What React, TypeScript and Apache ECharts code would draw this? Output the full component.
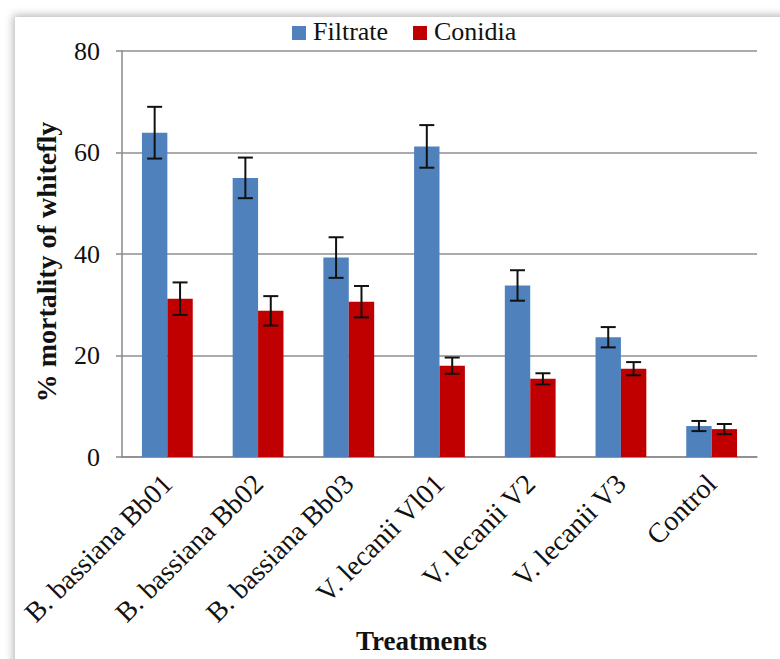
import React, { useEffect, useRef } from "react";
import * as echarts from "echarts";

const categories = [
  "B. bassiana Bb01",
  "B. bassiana Bb02",
  "B. bassiana Bb03",
  "V. lecanii Vl01",
  "V. lecanii V2",
  "V. lecanii V3",
  "Control",
];
const filtrate = [63.9, 55.0, 39.3, 61.2, 33.8, 23.6, 6.1];
const filtrateErr = [5.1, 4.0, 4.0, 4.2, 3.0, 2.0, 1.0];
const conidia = [31.2, 28.8, 30.6, 18.0, 15.4, 17.4, 5.5];
const conidiaErr = [3.2, 2.9, 3.1, 1.6, 1.1, 1.3, 1.0];
const yTicks = { min: 0, max: 80, interval: 20 };
const seriesNames = ["Filtrate", "Conidia"];
const seriesColors = ["#4F81BD", "#C00000"];

const FONT = "'Liberation Serif', 'Times New Roman', serif";
const BAR_FRAC = 0.28;

function errorSeries(name: string, values: number[], errs: number[], side: number) {
  return {
    type: "custom",
    name: name + " error",
    z: 10,
    silent: true,
    renderItem: (params: any, api: any) => {
      const idx = api.value(0);
      const v = api.value(1);
      const e = api.value(2);
      const band = api.size([1, 0])[0];
      const off = side * band * BAR_FRAC * 0.5;
      const top = api.coord([idx, v + e]);
      const bot = api.coord([idx, v - e]);
      const x = top[0] + off;
      const cap = 7.5;
      const style = { stroke: "#111", lineWidth: 2 };
      return {
        type: "group",
        children: [
          { type: "line", shape: { x1: x, y1: top[1], x2: x, y2: bot[1] }, style },
          { type: "line", shape: { x1: x - cap, y1: top[1], x2: x + cap, y2: top[1] }, style },
          { type: "line", shape: { x1: x - cap, y1: bot[1], x2: x + cap, y2: bot[1] }, style },
        ],
      };
    },
    data: values.map((v, i) => [i, v, errs[i]]),
  };
}

export default function App() {
  const ref = useRef<HTMLDivElement>(null);
  useEffect(() => {
    if (!ref.current) return;
    const chart = echarts.init(ref.current, null, { renderer: "svg" });
    const legendX = [292, 413];
    const legendGraphics: any[] = [];
    seriesNames.forEach((n, i) => {
      legendGraphics.push({
        type: "rect",
        left: legendX[i],
        top: 26,
        shape: { width: 14, height: 14 },
        style: { fill: seriesColors[i] },
      });
      legendGraphics.push({
        type: "text",
        left: legendX[i] + 21,
        top: 18,
        style: {
          text: n,
          font: "normal 26px " + FONT,
          fontFamily: FONT,
          fontSize: 26,
          fill: "#111",
        },
      });
    });
    chart.setOption({
      animation: false,
      backgroundColor: "transparent",
      textStyle: { fontFamily: FONT },
      graphic: legendGraphics,
      grid: { left: 122, right: 23, top: 51, bottom: 202, outerBoundsMode: "none", containLabel: false },
      xAxis: {
        type: "category",
        data: categories,
        name: "Treatments",
        nameLocation: "middle",
        nameGap: 170,
        nameMoveOverlap: false,
        nameTextStyle: {
          fontFamily: FONT,
          fontSize: 27,
          fontWeight: "bold",
          color: "#111",
          padding: [0, 36, 0, 0],
        },
        axisLine: { lineStyle: { color: "#8a8a8a", width: 1.5 } },
        axisTick: { length: 8, lineStyle: { color: "#8a8a8a", width: 1.5 } },
        axisLabel: {
          rotate: 45,
          margin: 22,
          interval: 0,
          fontFamily: FONT,
          fontSize: 28,
          color: "#111",
        },
      },
      yAxis: {
        type: "value",
        min: yTicks.min,
        max: yTicks.max,
        interval: yTicks.interval,
        name: "% mortality of whitefly",
        nameLocation: "middle",
        nameGap: 62,
        nameMoveOverlap: false,
        nameTextStyle: {
          fontFamily: FONT,
          fontSize: 28,
          fontWeight: "bold",
          color: "#111",
          padding: [0, 16, 0, 0],
        },
        axisLine: { show: true, lineStyle: { color: "#8a8a8a", width: 1.5 } },
        axisTick: { show: true, length: 6, lineStyle: { color: "#8a8a8a", width: 1.5 } },
        axisLabel: { margin: 22, fontFamily: FONT, fontSize: 26, color: "#111" },
        splitLine: { lineStyle: { color: "#8f8f8f", width: 1.5 } },
      },
      series: [
        {
          name: seriesNames[0],
          type: "bar",
          data: filtrate,
          barWidth: BAR_FRAC * 100 + "%",
          barGap: "0%",
          itemStyle: { color: seriesColors[0] },
        },
        {
          name: seriesNames[1],
          type: "bar",
          data: conidia,
          barWidth: BAR_FRAC * 100 + "%",
          barGap: "0%",
          itemStyle: { color: seriesColors[1] },
        },
        errorSeries(seriesNames[0], filtrate, filtrateErr, -1),
        errorSeries(seriesNames[1], conidia, conidiaErr, 1),
      ],
    });
    return () => chart.dispose();
  }, []);
  return (
    <div
      style={{
        position: "fixed",
        left: 0,
        top: 0,
        width: 780,
        height: 659,
        background: "#ffffff",
        overflow: "hidden",
      }}
    >
      <div
        style={{
          position: "absolute",
          left: 15,
          top: 17,
          width: 820,
          height: 720,
          background: "#ffffff",
          boxShadow: "0 0 8px 2px rgba(0,0,0,0.28)",
        }}
      />
      <div ref={ref} style={{ position: "absolute", left: 0, top: 0, width: 780, height: 659 }} />
    </div>
  );
}
